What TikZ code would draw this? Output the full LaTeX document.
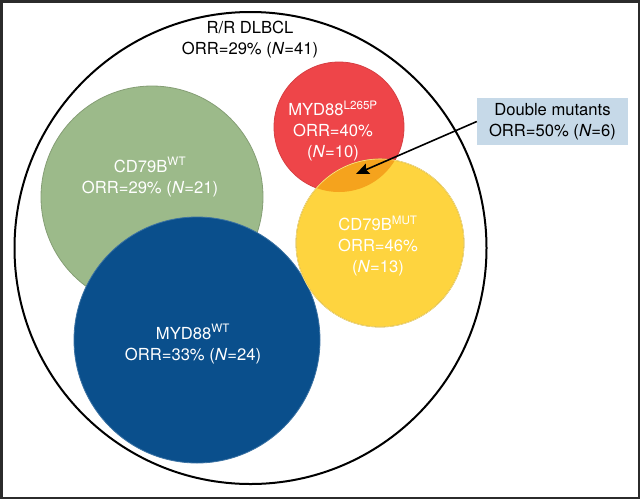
\documentclass[tikz,border=0pt]{standalone}
\usepackage{fontspec}
\setmainfont{TeX Gyre Heros}
\usetikzlibrary{positioning,arrows.meta}
\definecolor{sage}{HTML}{9CBA8A}
\definecolor{navy}{HTML}{0A4F8C}
\definecolor{tomato}{HTML}{EE4549}
\definecolor{gold}{HTML}{FED43F}
\definecolor{amber}{HTML}{F5A31D}
\definecolor{paleblue}{HTML}{C6D9E8}
\definecolor{frame}{HTML}{2B2B2B}

\begin{document}
\begin{tikzpicture}[x=1pt, y=-1pt,
    bubble/.style={circle, inner sep=0pt, outer sep=0pt, line width=0.8pt},
    lbl/.style={align=center, text=white, font=\fontsize{16.6}{21}\selectfont},
    arr/.style={-{Stealth[length=13pt,width=11pt,inset=2pt]}, line width=1.6pt}
]
\useasboundingbox (0,0) rectangle (640,499);
\draw[frame, line width=2.5pt] (1.25,1.25) rectangle (638.75,497.75);

% all patients
\node[bubble, draw=black, line width=2pt, minimum size=472pt] (all) at (250.5,248) {};
\node[lbl, text=black] (allL) at (250,40) {R/R DLBCL\\ORR=29\% (\textit{N}=41)};

% CD79B wild type
\node[bubble, fill=sage, draw=sage!85!black, minimum size=222pt] (cdwt) at (152,197) {};
% MYD88 wild type
\node[bubble, fill=navy, draw=navy!80!white, minimum size=246pt] (mywt) at (197,340) {};
% MYD88 L265P
\node[bubble, fill=tomato, draw=tomato!90!black, minimum size=130pt] (mymut) at (339,127) {};
% CD79B mutant
\node[bubble, fill=gold, draw=gold!75!black, minimum size=168pt] (cdmut) at (380,243) {};

% overlap of the two mutant groups
\begin{scope}
  \clip (339,127) circle (65);
  \fill[amber] (380,243) circle (84);
\end{scope}
\draw[gold!60!white, line width=0.6pt] (380,243) circle (84);

\node[lbl] (cdwtL) at (150,177) {CD79B\textsuperscript{WT}\\ORR=29\% (\textit{N}=21)};
\node[lbl] (mywtL) at (193,344) {MYD88\textsuperscript{WT}\\ORR=33\% (\textit{N}=24)};
\node[lbl] (mymutL) at (333,131) {MYD88\textsuperscript{L265P}\\ORR=40\%\\(\textit{N}=10)};
\node[lbl] (cdmutL) at (378,246) {CD79B\textsuperscript{MUT}\\ORR=46\%\\(\textit{N}=13)};

% double mutants callout
\node[lbl, text=black, fill=paleblue, minimum width=151pt, minimum height=47pt, inner sep=0pt] (dbl) at (552.5,121.5) {Double mutants\\ORR=50\% (\textit{N}=6)};
\coordinate (ovl) at (356,174);
\draw[arr] (dbl.west) -- (ovl);

\end{tikzpicture}
\end{document}
